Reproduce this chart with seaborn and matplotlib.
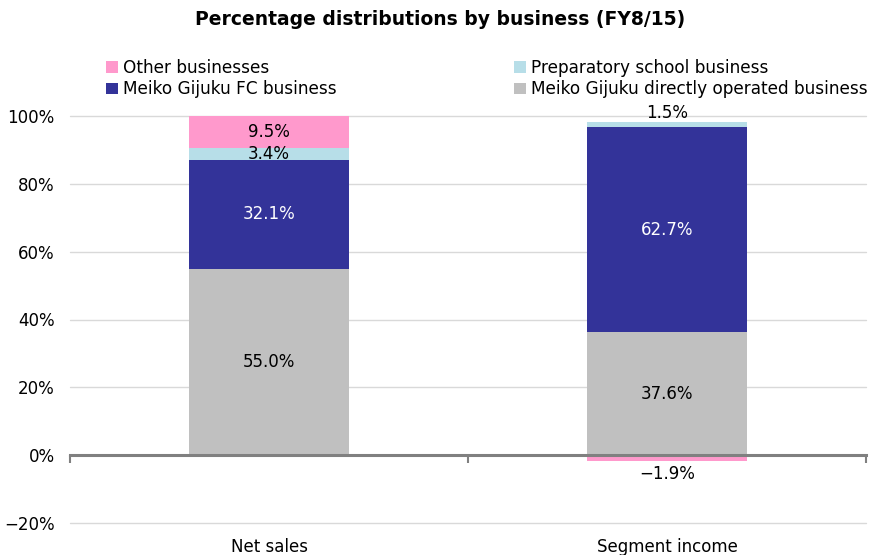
import matplotlib
matplotlib.use("Agg")
import matplotlib.pyplot as plt
import seaborn as sns
import numpy as np
import pandas as pd

categories = ["Net sales", "Segment income"]
direct = [55.0, 37.6]
fc = [32.1, 62.7]
prep = [3.4, 1.5]
other = [9.5, -1.9]
series_names = ["Meiko Gijuku directly operated business", "Meiko Gijuku FC business",
                "Preparatory school business", "Other businesses"]
colors = ["#C0C0C0", "#333399", "#B7DEE8", "#FF99CC"]
yticks = [-20, 0, 20, 40, 60, 80, 100]
title = "Percentage distributions by business (FY8/15)"

sns.set_theme(style="white")
plt.rcParams["font.family"] = ["DejaVu Sans"]
for k in ["text.color", "axes.labelcolor", "xtick.color", "ytick.color"]:
    plt.rcParams[k] = "black"

fig = plt.figure(figsize=(8.8, 5.55), dpi=100)
ax = fig.add_axes([70/880, 32/555, 796/880, 407/555])

series = [np.array(s, dtype=float) for s in [direct, fc, prep, other]]
# bar heights: shares of the total absolute size of each category (as the chart draws them)
abs_total = np.sum([np.abs(s) for s in series], axis=0)
pos_base = np.zeros(2)
neg_base = np.zeros(2)
label_info = []
for name, vals, col in zip(series_names, series, colors):
    heights = vals / abs_total * 100
    bottoms = np.where(heights >= 0, pos_base, neg_base)
    df = pd.DataFrame({"cat": categories, "val": heights})
    sns.barplot(data=df, x="cat", y="val", order=categories, color=col, width=0.4,
                bottom=bottoms, ax=ax, errorbar=None, saturation=1, linewidth=0,
                label=name, zorder=3)
    for i in range(2):
        label_info.append((i, bottoms[i], heights[i], vals[i], name))
    pos_base = pos_base + np.where(heights >= 0, heights, 0)
    neg_base = neg_base + np.where(heights < 0, heights, 0)
if ax.get_legend() is not None:
    ax.get_legend().remove()

for i, b, h, v, name in label_info:
    txt = f"{v:.1f}%".replace("-", "\u2212")
    color = "white" if name == "Meiko Gijuku FC business" else "black"
    if v < 0:
        ax.text(i, b + h - 1.0, txt, ha="center", va="top", fontsize=12, color=color, zorder=5)
    elif v < 2.5:
        ax.text(i, b + h + 0.2, txt, ha="center", va="bottom", fontsize=12, color=color, zorder=5)
    else:
        ax.text(i, b + h / 2, txt, ha="center", va="center", fontsize=12, color=color, zorder=5)

ax.set_ylim(-20, 100)
ax.set_xlim(-0.5, 1.5)
ax.set_yticks(yticks)
ax.set_yticklabels([f"{t}%".replace("-", "\u2212") for t in yticks], fontsize=12)
for t in yticks:
    if t != 0:
        ax.axhline(t, color="#D9D9D9", lw=1, zorder=1, clip_on=False)
ax.tick_params(axis="y", length=0, pad=11)
for s in ["top", "right", "left"]:
    ax.spines[s].set_visible(False)
ax.spines["bottom"].set_position(("data", 0))
ax.spines["bottom"].set_color("#808080")
ax.spines["bottom"].set_linewidth(2.2)
ax.spines["bottom"].set_zorder(4)
ax.set_xticks([])
ax.set_xticks([-0.5, 0.5, 1.5], minor=True)
ax.tick_params(axis="x", which="minor", length=6, width=1.5, color="#808080", direction="out", bottom=True)
ax.set_xlabel("")
ax.set_ylabel("")
for i, c in enumerate(categories):
    ax.text(i, -0.058, c, transform=ax.get_xaxis_transform(), ha="center", va="center", fontsize=12)

h, l = ax.get_legend_handles_labels()
hd = dict(zip(l, h))
order = ["Other businesses", "Meiko Gijuku FC business", "Preparatory school business",
         "Meiko Gijuku directly operated business"]
fig.legend([hd[o] for o in order], order, ncol=2, loc="upper left",
           bbox_to_anchor=(106/880, 1 - 59/555), frameon=False, fontsize=12.2,
           handlelength=0.7, handleheight=0.7, handletextpad=0.3, columnspacing=10.5,
           labelspacing=0.2, borderaxespad=0, borderpad=0)
fig.suptitle(title, y=1 - 10/555, va="top", fontsize=13.5, fontweight="bold")
fig.savefig("out.png", dpi=100)
